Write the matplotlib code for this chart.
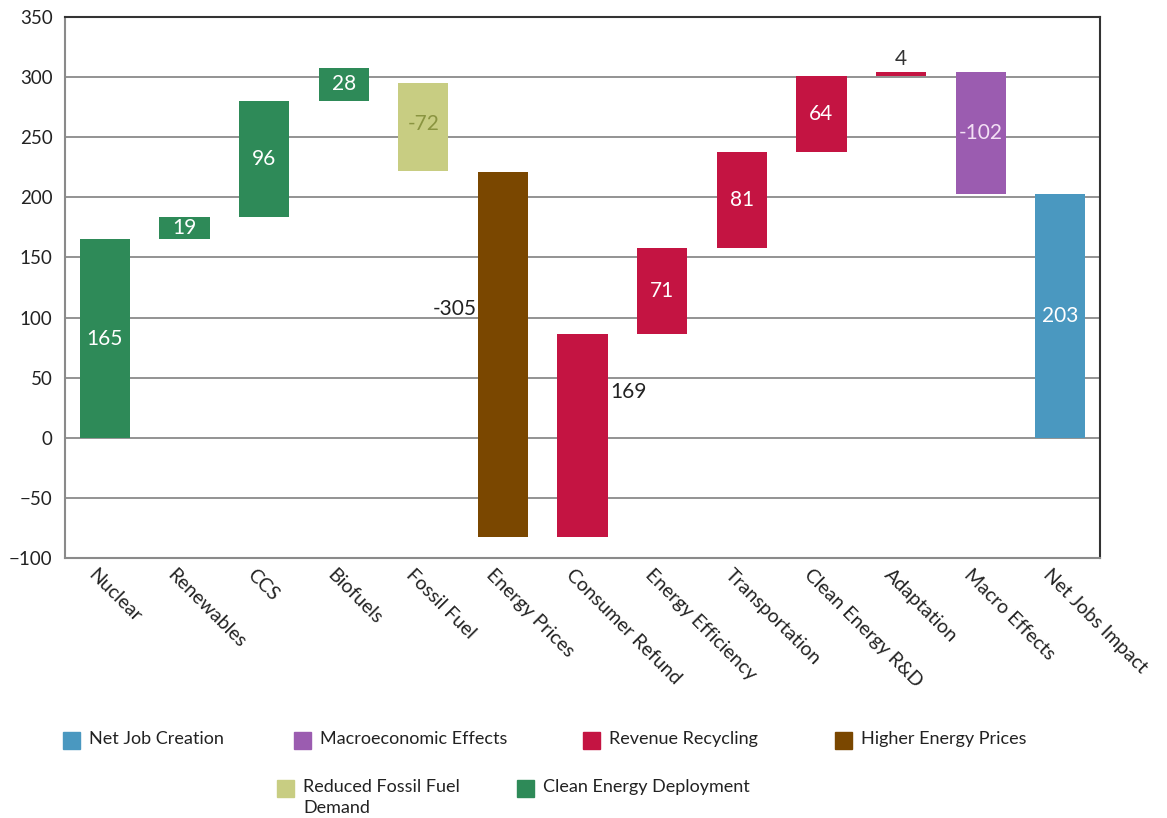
import matplotlib
matplotlib.use("Agg")
import matplotlib.pyplot as plt
import matplotlib.transforms as mtransforms
from matplotlib.patches import Rectangle

plt.rcParams['font.family'] = ['Lato', 'DejaVu Sans']

categories = ['Nuclear', 'Renewables', 'CCS', 'Biofuels', 'Fossil Fuel', 'Energy Prices',
              'Consumer Refund', 'Energy Efficiency', 'Transportation', 'Clean Energy R&D',
              'Adaptation', 'Macro Effects', 'Net Jobs Impact']
# bar spans (bottom, top)
bar_low = [0, 165, 184, 280, 222, -83, -83, 86, 158, 238, 301, 203, 0]
bar_high = [165, 184, 280, 308, 295, 221, 86, 158, 238, 301, 304, 304, 203]
value_labels = ['165', '19', '96', '28', '-72', '-305', '169', '71', '81', '64', '4', '-102', '203']
groups = ['clean', 'clean', 'clean', 'clean', 'fossil', 'prices', 'revenue', 'revenue',
          'revenue', 'revenue', 'revenue', 'macro', 'net']

colors = {'net': '#4a98c0', 'macro': '#9b5cb0', 'revenue': '#c41442',
          'prices': '#7a4700', 'fossil': '#c8cd82', 'clean': '#2e8a58'}
legend_names = {'net': 'Net Job Creation', 'macro': 'Macroeconomic Effects',
                'revenue': 'Revenue Recycling', 'prices': 'Higher Energy Prices',
                'fossil': 'Reduced Fossil Fuel\nDemand', 'clean': 'Clean Energy Deployment'}
legend_order = ['net', 'macro', 'revenue', 'prices', 'fossil', 'clean']
# legend key positions in pixels (left, centre y of first line)
legend_px = [(63, 740), (294, 740), (583, 740), (835, 740), (277, 788), (517, 788)]

W, H = 1167, 818
fig = plt.figure(figsize=(W / 100, H / 100), dpi=100)
ax = fig.add_axes([0.0557, 0.318, 0.887, 0.661])

x = list(range(len(categories)))
heights = [h - l for l, h in zip(bar_low, bar_high)]
ax.bar(x, heights, bottom=bar_low, width=0.63,
       color=[colors[g] for g in groups], zorder=3)

ax.set_ylim(-100, 350)
ax.set_xlim(-0.5, len(categories) - 0.5)
ax.set_yticks(range(-100, 351, 50))
ax.yaxis.grid(True, color='#8a8a8a', linewidth=1.3, zorder=0)
ax.tick_params(axis='y', length=0, labelsize=13.5, pad=9, labelcolor='#222222')
ax.tick_params(axis='x', length=0, pad=6)
for s in ['left', 'bottom']:
    ax.spines[s].set_color('#8a8a8a')
    ax.spines[s].set_linewidth(1.5)
for s in ['top', 'right']:
    ax.spines[s].set_color('#333333')
    ax.spines[s].set_linewidth(1.5)

ax.set_xticks(x)
ax.set_xticklabels(categories, rotation=-45, ha='left', rotation_mode='anchor',
                   fontsize=14, color='#222222')
offset = mtransforms.ScaledTranslation(-8 / 100, 0, fig.dpi_scale_trans)
for lbl in ax.get_xticklabels():
    lbl.set_transform(lbl.get_transform() + offset)

# value labels
for i, (lo, hi, txt) in enumerate(zip(bar_low, bar_high, value_labels)):
    mid = (lo + hi) / 2
    if txt == '4':
        ax.text(i, hi + 3, txt, ha='center', va='bottom', fontsize=15, color='#333333')
    elif txt == '-305':
        ax.text(i - 0.33, 107, txt, ha='right', va='center', fontsize=15, color='#222222')
    elif txt == '169':
        ax.text(i + 0.35, 38, txt, ha='left', va='center', fontsize=15, color='#222222')
    elif txt == '-72':
        ax.text(i, mid + 3, txt, ha='center', va='center', fontsize=15, color='#8a9440')
    elif txt == '-102':
        ax.text(i, mid, txt, ha='center', va='center', fontsize=15, color='#f3e0f5')
    else:
        ax.text(i, mid, txt, ha='center', va='center', fontsize=15, color='white')

# legend drawn as keys + labels so the second row can sit where the original has it
sq = 17
for g, (px, py) in zip(legend_order, legend_px):
    fig.add_artist(Rectangle((px / W, (H - py - sq / 2) / H), sq / W, sq / H,
                             transform=fig.transFigure, color=colors[g]))
    fig.text((px + sq + 9) / W, (H - py + 9) / H, legend_names[g], ha='left', va='top',
             fontsize=13, color='#222222', linespacing=1.35)

fig.savefig('out.png', dpi=100, facecolor='white')
